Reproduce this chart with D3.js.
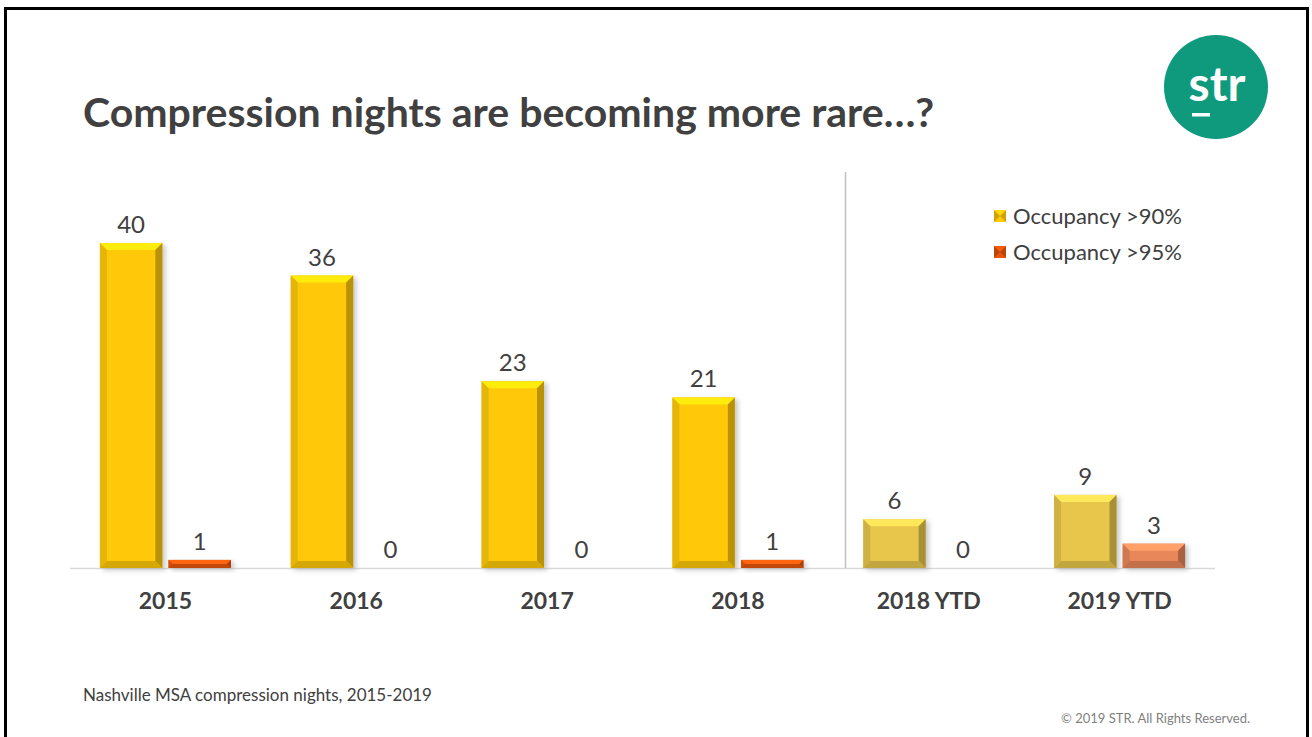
<!DOCTYPE html>
<html>
<head>
<meta charset="utf-8">
<script src="https://cdn.jsdelivr.net/npm/d3@7"></script>
<style>
  html, body { margin: 0; padding: 0; background: #fff; }
  svg { display: block; }
  text { font-family: Lato, "Open Sans", sans-serif; }
</style>
</head>
<body>
<svg id="chart" width="1312" height="737"></svg>
<script>
// Compression nights per period, Nashville MSA
const categories = ["2015", "2016", "2017", "2018", "2018 YTD", "2019 YTD"];
const occ90 = [40, 36, 23, 21, 6, 9];
const occ95 = [1, 0, 0, 1, 0, 3];
const seriesNames = ["Occupancy >90%", "Occupancy >95%"];
const ytdCategories = ["2018 YTD", "2019 YTD"];

const svg = d3.select("#chart");

// slide frame
svg.append("rect").attr("x", 5.5).attr("y", 8.5).attr("width", 1302).attr("height", 740)
  .attr("fill", "none").attr("stroke", "#000").attr("stroke-width", 3);

// title
svg.append("text").attr("x", 83).attr("y", 127)
  .attr("font-size", 41).attr("font-weight", 700).attr("fill", "#404040")
  .text("Compression nights are becoming more rare…?");

// logo
const logo = svg.append("g").attr("transform", "translate(1216,87)");
logo.append("circle").attr("r", 52).attr("fill", "#0f9a7e");
logo.append("text").attr("x", 1).attr("y", 14).attr("text-anchor", "middle")
  .attr("font-size", 48).attr("font-weight", 700).attr("fill", "#fff").text("str");
logo.append("rect").attr("x", -24).attr("y", 26).attr("width", 18).attr("height", 3.5).attr("fill", "#fff");

// scales
const x0 = d3.scaleBand().domain(categories).range([70, 1215]);
const groupW = 131;
const x1 = d3.scaleBand().domain(seriesNames).range([0, groupW]).paddingInner(0.09);
const y = d3.scaleLinear().domain([0, 40]).range([568, 243]);

const defs = svg.append("defs");
defs.append("filter").attr("id", "shadow").attr("x", "-30%").attr("y", "-30%").attr("width", "160%").attr("height", "160%")
  .append("feGaussianBlur").attr("stdDeviation", 2.5);

const palette = {
  full: ["#ffc90a", "#e8560c"],
  ytd: ["#e8c64c", "#e8875a"]
};

function bevelBar(g, x, w, v, color) {
  const yTop = y(v), yBot = y(0);
  const h = yBot - yTop;
  if (h <= 0) return;
  const b = Math.min(7, h / 2, w / 2);
  const c = d3.color(color);
  // soft drop shadow
  g.append("rect").attr("x", x + 3).attr("y", yTop + 2).attr("width", w).attr("height", h)
    .attr("fill", "#999").attr("opacity", 0.55).attr("filter", "url(#shadow)");
  g.append("rect").attr("x", x).attr("y", yTop).attr("width", w).attr("height", h).attr("fill", color);
  const pts = (arr) => arr.map(p => p.join(",")).join(" ");
  // top bevel
  g.append("polygon").attr("points", pts([[x, yTop], [x + w, yTop], [x + w - b, yTop + b], [x + b, yTop + b]]))
    .attr("fill", c.brighter(0.45));
  // left bevel
  g.append("polygon").attr("points", pts([[x, yTop], [x + b, yTop + b], [x + b, yBot - b], [x, yBot]]))
    .attr("fill", c.darker(0.3));
  // right bevel
  g.append("polygon").attr("points", pts([[x + w, yTop], [x + w, yBot], [x + w - b, yBot - b], [x + w - b, yTop + b]]))
    .attr("fill", c.darker(0.9));
  // bottom bevel
  g.append("polygon").attr("points", pts([[x, yBot], [x + b, yBot - b], [x + w - b, yBot - b], [x + w, yBot]]))
    .attr("fill", c.darker(0.5));
}

// baseline
svg.append("line").attr("x1", 70).attr("x2", 1215).attr("y1", 568.5).attr("y2", 568.5)
  .attr("stroke", "#d9d9d9").attr("stroke-width", 1.5);

// divider between full years and YTD
svg.append("line").attr("x1", 845.5).attr("x2", 845.5).attr("y1", 172).attr("y2", 568)
  .attr("stroke", "#c0c0c0").attr("stroke-width", 1.5);

const bars = svg.append("g");
categories.forEach((cat, i) => {
  const gx = x0(cat) + (x0.bandwidth() - groupW) / 2;
  const set = ytdCategories.includes(cat) ? palette.ytd : palette.full;
  [occ90[i], occ95[i]].forEach((v, s) => {
    const bx = gx + x1(seriesNames[s]);
    const bw = x1.bandwidth();
    bevelBar(bars, bx, bw, v, set[s]);
    bars.append("text").attr("x", bx + bw / 2).attr("y", y(v) - 10)
      .attr("text-anchor", "middle").attr("font-size", 24).attr("fill", "#404040").text(v);
  });
});

// category axis
const xAxis = svg.append("g").attr("transform", "translate(0,568)")
  .call(d3.axisBottom(x0).tickSize(0).tickPadding(25));
xAxis.select(".domain").remove();
xAxis.selectAll("text").attr("font-size", 23).attr("font-weight", 700).attr("fill", "#404040")
  .attr("font-family", "Lato, 'Open Sans', sans-serif");

// legend
const legend = svg.append("g").attr("transform", "translate(994,0)");
seriesNames.forEach((name, s) => {
  const ly = 216 + s * 36;
  const c = d3.color(palette.full[s]);
  const sz = 12;
  legend.append("rect").attr("x", 0).attr("y", ly - sz / 2).attr("width", sz).attr("height", sz).attr("fill", c.darker(0.6));
  legend.append("polygon").attr("points", `0,${ly - sz / 2} ${sz},${ly - sz / 2} ${sz / 2},${ly} `).attr("fill", c.brighter(0.2));
  legend.append("polygon").attr("points", `0,${ly + sz / 2} ${sz},${ly + sz / 2} ${sz / 2},${ly} `).attr("fill", c);
  legend.append("text").attr("x", 19).attr("y", ly + 8).attr("font-size", 22).attr("fill", "#404040").text(name);
});

// footnotes
svg.append("text").attr("x", 83).attr("y", 701).attr("font-size", 17).attr("fill", "#404040")
  .text("Nashville MSA compression nights, 2015-2019");
svg.append("text").attr("x", 1250).attr("y", 723).attr("text-anchor", "end").attr("font-size", 13).attr("fill", "#7f7f7f")
  .text("© 2019 STR. All Rights Reserved.");
</script>
</body>
</html>
